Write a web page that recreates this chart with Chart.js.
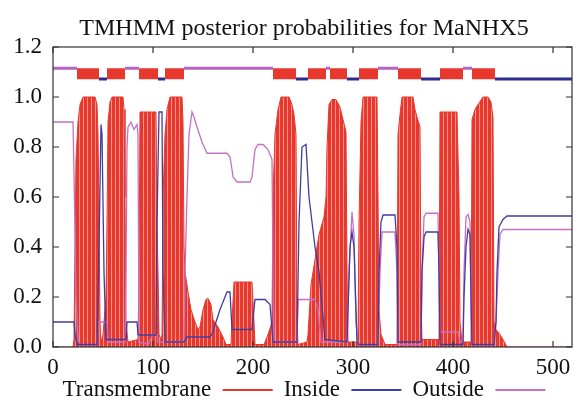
<!DOCTYPE html>
<html>
<head>
<meta charset="utf-8">
<script src="https://cdn.jsdelivr.net/npm/chart.js@4/dist/chart.umd.min.js"></script>
<style>
  html, body { margin: 0; padding: 0; background: #fff; }
  #chart { display: block; }
</style>
</head>
<body>
<canvas id="chart" width="574" height="408"></canvas>
<script>
// posterior probabilities per residue as [residue, probability]
const tmProb = [
  [0,0],[20,0],[21,0.03],[22,0.4],[23,0.75],[25,0.9],[27,0.97],[30,1.0],[42,1.0],[44,0.97],[45,0.85],[46,0.5],[47,0.1],[48,0.02],
  [50,0.05],[52,0.15],[53,0.2],[54,0.5],[55,0.9],[57,0.98],[59,1.0],[70,1.0],[71,0.95],[72,0.6],[73,0.1],[75,0.02],
  [85,0.03],[86,0.3],[87,0.94],[103,0.94],[104,0.5],[105,0.3],[106,0.05],[108,0.03],
  [109,0.05],[110,0.6],[112,0.85],[114,0.95],[117,1.0],[129,1.0],[130,0.9],[131,0.4],[132,0.3],[135,0.22],[138,0.15],
  [142,0.1],[145,0.07],[147,0.08],[150,0.15],[153,0.19],[155,0.195],[158,0.17],[160,0.11],[165,0.08],[170,0.04],[173,0.01],
  [178,0.01],[179,0.1],[181,0.26],[199,0.26],[201,0.1],[202,0.01],[211,0.01],[215,0.05],[219,0.1],
  [220,0.6],[222,0.85],[225,0.95],[228,1.0],[236,1.0],[239,0.97],[241,0.93],[243,0.85],[244,0.1],[245,0.01],
  [254,0.02],[255,0.05],[258,0.25],[262,0.35],[266,0.45],[271,0.52],[273,0.6],[274,0.8],[276,0.97],[279,0.99],[283,0.99],
  [287,0.96],[290,0.91],[293,0.86],[294,0.3],[295,0.02],[305,0.02],
  [306,0.5],[308,0.9],[310,1.0],[324,1.0],[325,0.6],[326,0.15],[328,0.05],[332,0.01],[344,0.01],
  [345,0.85],[347,0.93],[349,1.0],[360,1.0],[362,0.95],[364,0.92],[367,0.88],[368,0.2],[369,0.03],[386,0.03],
  [387,0.94],[404,0.94],[406,0.6],[407,0.1],[409,0.02],[418,0.02],
  [419,0.91],[422,0.95],[425,0.97],[430,1.0],[435,1.0],[438,0.98],[439,0.95],[440,0.92],[441,0.1],[443,0.07],
  [447,0.05],[450,0.03],[454,0],[519,0]
];
const insideProb = [
  [0,0.1],[21,0.1],[22,0.05],[24,0.01],[44,0.01],[46,0.4],[48,0.89],[49,0.85],[51,0.3],[53,0.03],
  [73,0.03],[74,0.1],[84,0.1],[85,0.05],[86,0.048],[103,0.048],[104,0.5],[106,0.94],[109,0.94],[110,0.3],[112,0.02],
  [131,0.02],[134,0.04],[157,0.04],[160,0.06],[163,0.1],[167,0.15],[172,0.2],[174,0.22],[177,0.22],[179,0.07],
  [199,0.07],[201,0.15],[202,0.19],[212,0.19],[217,0.17],[220,0.02],[244,0.02],[246,0.5],[249,0.8],[253,0.81],
  [256,0.6],[259,0.5],[262,0.4],[266,0.3],[270,0.12],[272,0.03],[294,0.02],[297,0.4],[299,0.46],[301,0.4],[304,0.02],
  [306,0.01],[325,0.01],[326,0.3],[328,0.5],[330,0.528],[342,0.528],[344,0.4],[345,0.02],
  [368,0.02],[369,0.3],[371,0.44],[373,0.46],[385,0.46],[386,0.3],[387,0.01],
  [410,0.01],[411,0.2],[413,0.4],[415,0.47],[417,0.45],[418,0.2],[419,0.01],
  [441,0.01],[443,0.1],[444,0.3],[446,0.48],[450,0.51],[454,0.524],[519,0.524]
];
const outsideProb = [
  [0,0.9],[20,0.9],[21,0.7],[22,0.45],[23,0.2],[25,0.03],[27,0.01],[44,0.01],[45,0.1],[54,0.1],[55,0.02],
  [72,0.02],[73,0.3],[74,0.8],[75,0.88],[78,0.9],[81,0.87],[84,0.89],[85,0.85],[86,0.02],[95,0.01],[100,0.05],
  [104,0.05],[105,0.02],[131,0.02],[132,0.3],[134,0.6],[136,0.85],[139,0.94],[141,0.92],[144,0.88],[149,0.82],
  [154,0.775],[174,0.775],[177,0.76],[179,0.71],[180,0.68],[184,0.66],[197,0.66],[199,0.68],[202,0.79],
  [205,0.81],[210,0.81],[215,0.79],[219,0.75],[220,0.3],[221,0.02],[244,0.02],[245,0.19],[262,0.19],[265,0.15],
  [268,0.02],[294,0.02],[296,0.3],[299,0.54],[301,0.45],[303,0.1],[305,0.01],[325,0.01],[327,0.3],[329,0.46],
  [342,0.46],[344,0.3],[345,0.01],[368,0.01],[369,0.3],[371,0.52],[373,0.535],[385,0.535],[386,0.3],[387,0.06],
  [405,0.06],[407,0.02],[410,0.02],[411,0.3],[413,0.52],[415,0.53],[417,0.5],[418,0.2],[419,0.01],
  [441,0.01],[443,0.1],[445,0.3],[447,0.45],[450,0.47],[519,0.47]
];

// predicted topology (residue ranges) shown as the bar along the top
const tmSegments = [[24,46],[54,72],[86,105],[112,131],[220,243],[255,273],[277,294],[306,325],[345,368],[387,410],[419,442]];
const insideSegments = [[46,54],[105,112],[243,255],[294,306],[368,387],[442,519]];
const outsideSegments = [[0,24],[72,86],[131,220],[273,277],[325,345],[410,419]];

const seqLength = 519;
const seriesNames = ['Transmembrane', 'Inside', 'Outside'];

const RED = 'rgb(232,56,46)';
const BLUE = 'rgb(62,62,162)';
const PINK = 'rgb(196,112,200)';
const legendColors = [RED, BLUE, PINK];

function toXY(pairs) {
  return pairs.map(p => ({ x: p[0], y: p[1] }));
}

// segments -> line pieces broken by null points
function segLine(segs, level) {
  const out = [];
  segs.forEach(s => {
    out.push({ x: s[0], y: level }, { x: s[1], y: level }, { x: s[1], y: null });
  });
  return out;
}

// impulse look of the TM fill: red with thin light stripes
function stripes() {
  const c = document.createElement('canvas');
  c.width = 4; c.height = 1;
  const g = c.getContext('2d');
  g.fillStyle = RED;
  g.fillRect(0, 0, 4, 1);
  g.fillStyle = 'rgb(245,150,140)';
  g.fillRect(3, 0, 1, 1);
  return g.createPattern(c, 'repeat');
}

// frame plus inward tick marks like the gnuplot original
const frameTicks = {
  id: 'frameTicks',
  afterDraw(chart) {
    const { ctx, chartArea: a, scales: { x, y } } = chart;
    ctx.save();
    ctx.strokeStyle = '#333';
    ctx.lineWidth = 1.2;
    ctx.strokeRect(a.left, a.top, a.right - a.left, a.bottom - a.top);
    ctx.beginPath();
    x.ticks.forEach(t => {
      const px = x.getPixelForValue(t.value);
      ctx.moveTo(px, a.bottom); ctx.lineTo(px, a.bottom - 6);
      ctx.moveTo(px, a.top); ctx.lineTo(px, a.top + 6);
    });
    y.ticks.forEach(t => {
      const py = y.getPixelForValue(t.value);
      ctx.moveTo(a.left, py); ctx.lineTo(a.left + 6, py);
      ctx.moveTo(a.right, py); ctx.lineTo(a.right - 6, py);
    });
    ctx.stroke();
    ctx.restore();
  }
};

Chart.defaults.font.family = "'Liberation Serif', 'Times New Roman', serif";
Chart.defaults.color = '#111';

new Chart(document.getElementById('chart'), {
  type: 'line',
  data: {
    datasets: [
      {
        label: seriesNames[0],
        data: toXY(tmProb),
        fill: 'origin',
        backgroundColor: stripes(),
        borderColor: RED,
        borderWidth: 1,
        order: 6
      },
      {
        label: seriesNames[1],
        data: toXY(insideProb),
        borderColor: BLUE,
        borderWidth: 1.3,
        order: 2
      },
      {
        label: seriesNames[2],
        data: toXY(outsideProb),
        borderColor: PINK,
        borderWidth: 1.3,
        order: 3
      },
      {
        label: 'tm-top',
        data: segLine(tmSegments, 1.0935),
        borderColor: RED,
        borderWidth: 11,
        borderCapStyle: 'butt',
        spanGaps: false,
        order: 1
      },
      {
        label: 'in-top',
        data: segLine(insideSegments, 1.072),
        borderColor: 'rgb(45,45,145)',
        borderWidth: 3,
        borderCapStyle: 'butt',
        spanGaps: false,
        order: 1
      },
      {
        label: 'out-top',
        data: segLine(outsideSegments, 1.115),
        borderColor: 'rgb(180,100,190)',
        borderWidth: 3,
        borderCapStyle: 'butt',
        spanGaps: false,
        order: 1
      }
    ]
  },
  options: {
    responsive: false,
    animation: false,
    devicePixelRatio: 1,
    layout: { padding: { left: 36, right: 2, top: 0, bottom: -3.5 } },
    elements: {
      point: { radius: 0 },
      line: { tension: 0 }
    },
    plugins: {
      title: {
        display: true,
        text: 'TMHMM posterior probabilities for MaNHX5',
        font: { size: 24, weight: 'normal' },
        color: '#111',
        padding: { top: 14, bottom: 4.2 }
      },
      legend: {
        position: 'bottom',
        rtl: true,
        reverse: true,
        labels: {
          usePointStyle: true,
          pointStyle: 'line',
          pointStyleWidth: 50,
          padding: 11,
          font: { size: 23 },
          color: '#111',
          filter: item => item.datasetIndex < 3,
          sort: (a, b) => a.datasetIndex - b.datasetIndex,
          generateLabels(chart) {
            const items = Chart.defaults.plugins.legend.labels.generateLabels(chart);
            items.forEach(it => {
              it.lineWidth = 2;
              it.pointStyle = 'line';
              it.strokeStyle = legendColors[it.datasetIndex] || it.strokeStyle;
            });
            return items;
          }
        }
      },
      tooltip: { enabled: false }
    },
    scales: {
      x: {
        type: 'linear',
        min: 0,
        max: seqLength,
        grid: { display: false },
        border: { display: false },
        ticks: {
          stepSize: 100,
          includeBounds: false,
          mirror: true,
          padding: -34.8,
          font: { size: 23 },
          color: '#111'
        },
        afterFit(scale) { scale.height = 20.5; }
      },
      y: {
        min: 0,
        max: 1.2,
        grid: { display: false },
        border: { display: false },
        ticks: {
          stepSize: 0.2,
          mirror: true,
          crossAlign: 'far',
          padding: -39.75,
          font: { size: 23 },
          color: '#111',
          callback: v => v.toFixed(1)
        },
        afterFit(scale) { scale.width = 17; }
      }
    }
  },
  plugins: [frameTicks]
});
</script>
</body>
</html>
